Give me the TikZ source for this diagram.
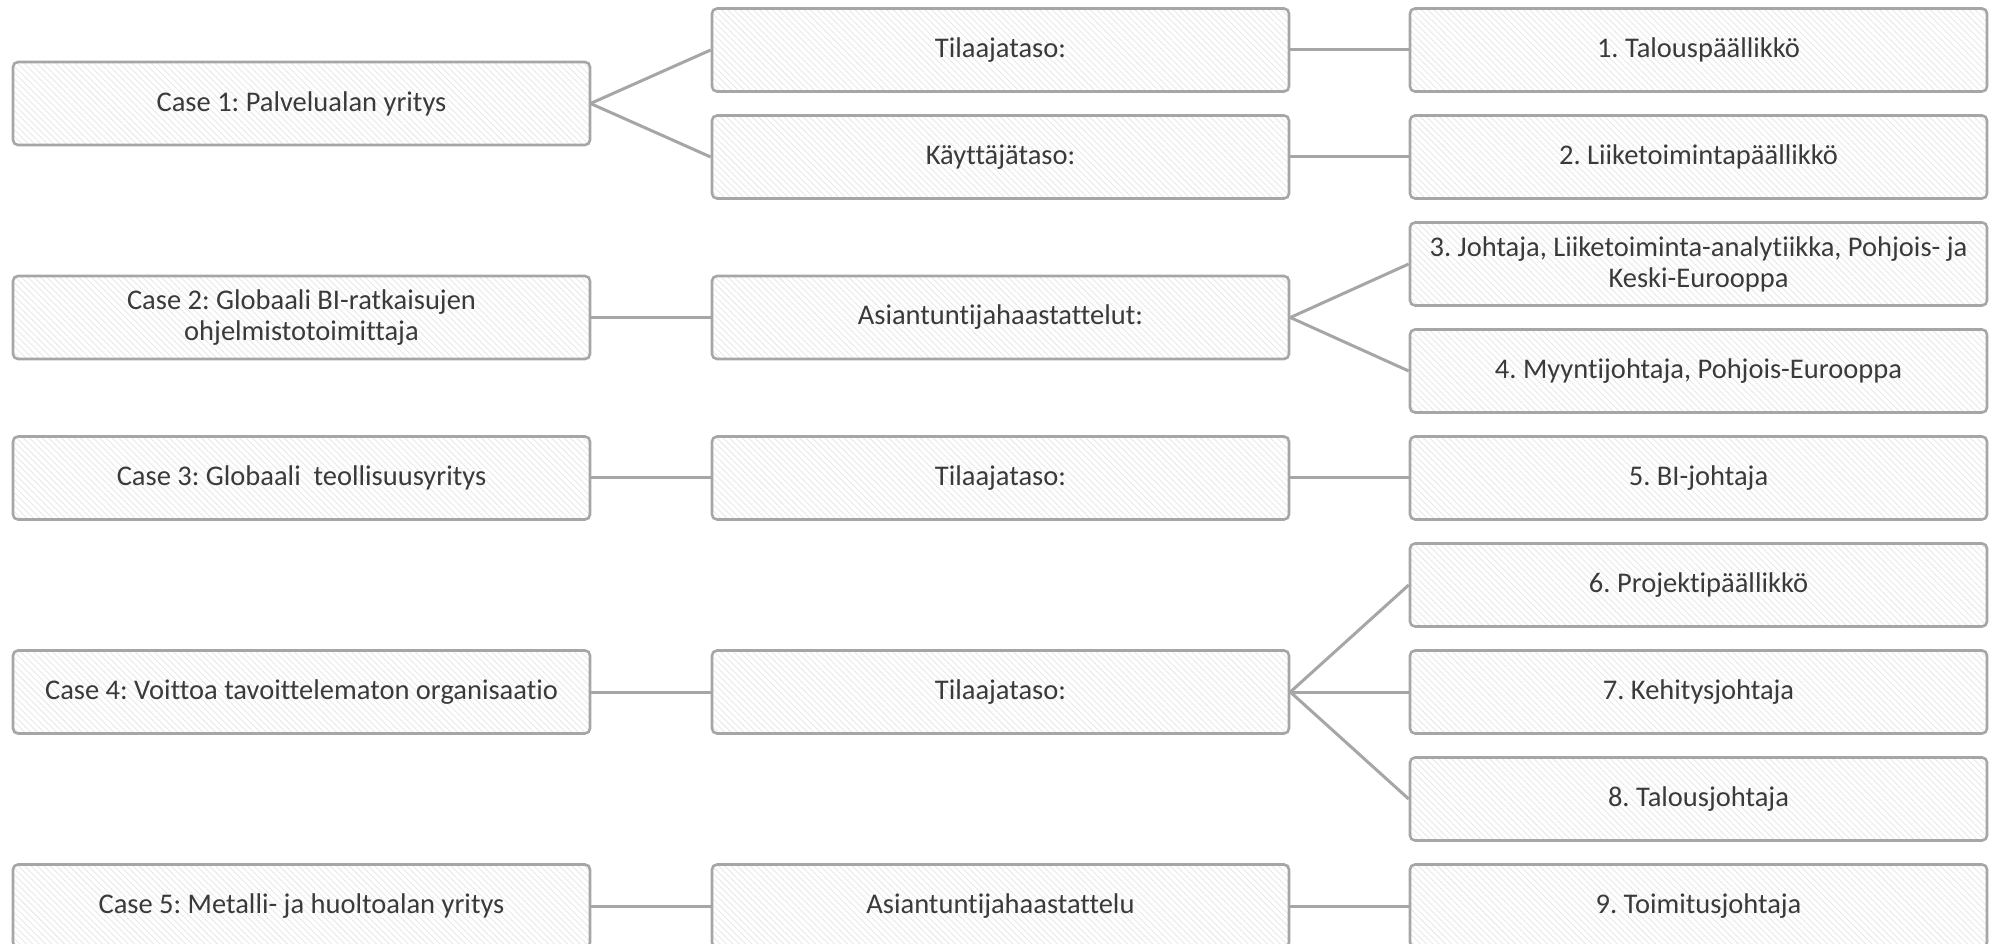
\documentclass[tikz,border=0pt]{standalone}
\usepackage{fontspec}
\setmainfont{Carlito}[RawFeature={-liga;-dlig}]
\usetikzlibrary{patterns.meta}
\definecolor{boxline}{HTML}{A6A6A6}
\definecolor{linkline}{HTML}{A6A6A6}
\definecolor{boxtext}{HTML}{3A3A3A}
\definecolor{hatch}{HTML}{E8E8E8}
\tikzset{
  box/.style={rectangle, rounded corners=5pt, draw=boxline, line width=2.6pt,
    minimum width=577pt, minimum height=83pt, inner sep=0pt, align=center,
    text=boxtext, font=\fontsize{28.5}{31}\selectfont\frenchspacing,
    pattern={Lines[angle=-45,distance=4.5pt,line width=0.9pt]}, pattern color=hatch},
  link/.style={draw=linkline, line width=3pt}
}
\begin{document}
\begin{tikzpicture}[x=1pt,y=1pt]
\useasboundingbox (0,0) rectangle (1993,943);
% first column: the cases
\node[box] (c1) at (301.5,839.5) {Case 1: Palvelualan yritys};
\node[box] (c2) at (301.5,625.5) {Case 2: Globaali BI-ratkaisujen\\ohjelmistotoimittaja};
\node[box] (c3) at (301.5,465) {Case 3: Globaali\ \ teollisuusyritys};
\node[box] (c4) at (301.5,251) {Case 4: Voittoa tavoittelematon organisaatio};
\node[box] (c5) at (301.5,37) {Case 5: Metalli- ja huoltoalan yritys};
% second column: interview levels
\node[box] (l1) at (1000.5,893) {Tilaajataso:};
\node[box] (l2) at (1000.5,786) {Käyttäjätaso:};
\node[box] (l3) at (1000.5,625.5) {Asiantuntijahaastattelut:};
\node[box] (l4) at (1000.5,465) {Tilaajataso:};
\node[box] (l5) at (1000.5,251) {Tilaajataso:};
\node[box] (l6) at (1000.5,37) {Asiantuntijahaastattelu};
% third column: interviewees
\node[box] (p1) at (1698.5,893) {1. Talouspäällikkö};
\node[box] (p2) at (1698.5,786) {2. Liiketoimintapäällikkö};
\node[box] (p3) at (1698.5,679) {3. Johtaja, Liiketoiminta-analytiikka, Pohjois- ja\\Keski-Eurooppa};
\node[box] (p4) at (1698.5,572) {4. Myyntijohtaja, Pohjois-Eurooppa};
\node[box] (p5) at (1698.5,465) {5. BI-johtaja};
\node[box] (p6) at (1698.5,358) {6. Projektipäällikkö};
\node[box] (p7) at (1698.5,251) {7. Kehitysjohtaja};
\node[box] (p8) at (1698.5,144) {8. Talousjohtaja};
\node[box] (p9) at (1698.5,37) {9. Toimitusjohtaja};
% connectors
\draw[link] (c1.east) -- (l1.west);
\draw[link] (c1.east) -- (l2.west);
\draw[link] (c2.east) -- (l3.west);
\draw[link] (c3.east) -- (l4.west);
\draw[link] (c4.east) -- (l5.west);
\draw[link] (c5.east) -- (l6.west);
\draw[link] (l1.east) -- (p1.west);
\draw[link] (l2.east) -- (p2.west);
\draw[link] (l3.east) -- (p3.west);
\draw[link] (l3.east) -- (p4.west);
\draw[link] (l4.east) -- (p5.west);
\draw[link] (l5.east) -- (p6.west);
\draw[link] (l5.east) -- (p7.west);
\draw[link] (l5.east) -- (p8.west);
\draw[link] (l6.east) -- (p9.west);
\end{tikzpicture}
\end{document}
